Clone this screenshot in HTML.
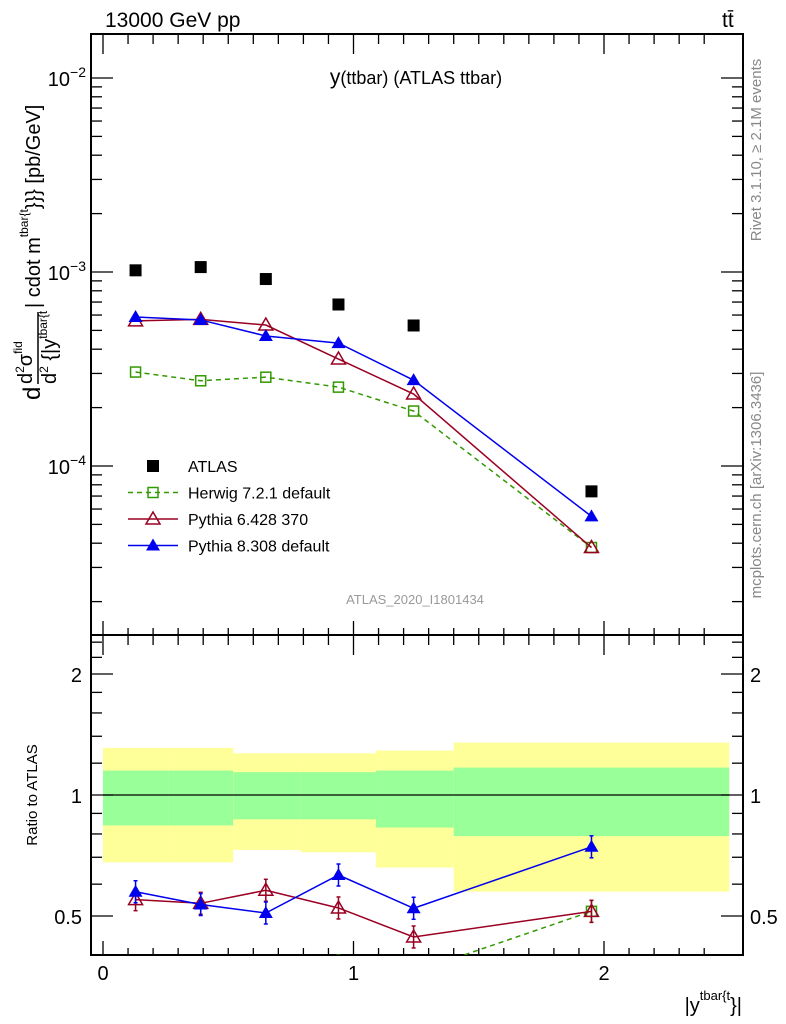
<!DOCTYPE html>
<html><head><meta charset="utf-8"><style>
body{margin:0;background:#fff;}
svg{display:block;font-family:"Liberation Sans",sans-serif;}
</style></head><body>
<svg id="c" width="786" height="1024" xmlns="http://www.w3.org/2000/svg">
<text x="105" y="27" font-size="21">13000 GeV pp</text>
<text x="722" y="27" font-size="21">tt̄</text>
<text x="416" y="84" font-size="18" text-anchor="middle"><tspan font-size="21">y</tspan>(ttbar) (ATLAS ttbar)</text>
<text x="415" y="604" font-size="13" fill="#999" text-anchor="middle">ATLAS_2020_I1801434</text>
<text transform="translate(761,150) rotate(-90)" font-size="15" fill="#888" text-anchor="middle">Rivet 3.1.10, ≥ 2.1M events</text>
<text transform="translate(761,485) rotate(-90)" font-size="15" fill="#888" text-anchor="middle">mcplots.cern.ch [arXiv:1306.3436]</text>
<g transform="translate(0,400) rotate(-90)">
<text x="0" y="40" font-size="24">d</text>
<text x="16" y="32" font-size="20">d<tspan font-size="12" dy="-8">2</tspan><tspan dy="8">σ</tspan><tspan font-size="12" dy="-10">fid</tspan></text>
<line x1="16" x2="88" y1="38" y2="38" stroke="#000" stroke-width="1.5"/>
<text x="16" y="56" font-size="20">d<tspan font-size="12" dy="-8">2</tspan><tspan dy="8"> {|y</tspan><tspan font-size="12" dy="-9">tbar{t</tspan></text>
<text x="92" y="40" font-size="20">| cdot m<tspan font-size="12" dy="-12">tbar{t</tspan><tspan dy="12">}}} [pb/GeV]</tspan></text>
</g>
<text transform="translate(37,795) rotate(-90)" font-size="15" text-anchor="middle">Ratio to ATLAS</text>
<text x="742" y="1012" font-size="20" text-anchor="end">|y<tspan font-size="13" dy="-12">tbar{t</tspan><tspan dy="12">}|</tspan></text>
<g id="g"></g>
</svg>
<script>
const xCenters=[0.13,0.39,0.65,0.94,1.24,1.95];
const binEdges=[0,0.26,0.52,0.79,1.09,1.4,2.5];
const atlas=[1.02e-3,1.06e-3,0.92e-3,0.68e-3,0.53e-3,7.4e-5];
const herwig=[3.05e-4,2.75e-4,2.87e-4,2.55e-4,1.92e-4,3.8e-5];
const pythia6=[5.6e-4,5.7e-4,5.33e-4,3.56e-4,2.35e-4,3.8e-5];
const pythia8=[5.86e-4,5.66e-4,4.68e-4,4.3e-4,2.77e-4,5.5e-5];
const yellowUp=[1.31,1.31,1.27,1.27,1.29,1.35];
const yellowDn=[0.68,0.68,0.73,0.72,0.66,0.575];
const greenUp=[1.15,1.15,1.14,1.14,1.15,1.17];
const greenDn=[0.84,0.84,0.87,0.87,0.83,0.79];
const mainTicks=[-2,-3,-4];
const ratioTicks=[2,1,0.5];
const xTicks=[0,1,2];
const NS="http://www.w3.org/2000/svg";
const g=document.getElementById('g');
const L=91,R=743,T=34,MB=635,RB=955;
const X=v=>103+v*250.5;
const Y=v=>272-(Math.log10(v)+3)*194;
const YR=v=>795-Math.log2(v)*121;
function el(t,a,p){const e=document.createElementNS(NS,t);for(const k in a)e.setAttribute(k,a[k]);(p||g).appendChild(e);return e;}
for(let i=0;i<xCenters.length;i++){
  const y=el('rect',{x:X(binEdges[i]),y:YR(yellowUp[i]),width:X(binEdges[i+1])-X(binEdges[i]),height:YR(yellowDn[i])-YR(yellowUp[i]),fill:'#ffff99'});
  
  
  const gr=el('rect',{x:X(binEdges[i]),y:YR(greenUp[i]),width:X(binEdges[i+1])-X(binEdges[i]),height:YR(greenDn[i])-YR(greenUp[i]),fill:'#99ff99'});
  
  
}
el('line',{x1:X(0),x2:X(2.5),y1:YR(1),y2:YR(1),stroke:'#000','stroke-width':1.3});
el('rect',{x:L,y:T,width:R-L,height:MB-T,fill:'none',stroke:'#000','stroke-width':2});
el('rect',{x:L,y:MB,width:R-L,height:RB-MB,fill:'none',stroke:'#000','stroke-width':2});
for(let v=0;v<=2.5;v+=0.1){const major=Math.abs(v-Math.round(v))<1e-6;const len=major?20:10;const len2=major?14:7;
 [[T,1],[MB,-1],[MB,1],[RB,-1]].forEach(([y0,d])=>el('line',{x1:X(v),x2:X(v),y1:y0,y2:y0+d*(y0==T||y0==MB&&d==1?len:len2),stroke:'#000','stroke-width':1.3}));}
xTicks.forEach(v=>{const t=el('text',{x:X(v),y:980,'font-size':20,'text-anchor':'middle'});t.textContent=v;
 
 });
for(let e=-5;e<=-2;e++)for(let m=1;m<10;m++){const y=Y(m*Math.pow(10,e));if(y<T||y>MB)continue;const len=m==1?22:11;
 el('line',{x1:L,x2:L+len,y1:y,y2:y,stroke:'#000','stroke-width':1.3});el('line',{x1:R,x2:R-len,y1:y,y2:y,stroke:'#000','stroke-width':1.3});}
mainTicks.forEach(e=>{const t=el('text',{x:86,y:Y(Math.pow(10,e))+8,'font-size':20,'text-anchor':'end'});
 t.innerHTML='10<tspan font-size="14" dy="-9">−'+(-e)+'</tspan>';
 
 });
[0.4,0.5,0.6,0.7,0.8,0.9,1,1.2,1.4,1.6,1.8,2,2.2,2.4].forEach(v=>{const y=YR(v);const len=(v==0.5||v==1||v==2)?22:11;
 el('line',{x1:L,x2:L+len,y1:y,y2:y,stroke:'#000','stroke-width':1.3});el('line',{x1:R,x2:R-len,y1:y,y2:y,stroke:'#000','stroke-width':1.3});});
ratioTicks.forEach(v=>{[[82,'end'],[750,'start']].forEach(([x,a])=>{const t=el('text',{x:x,y:YR(v)+8,'font-size':20,'text-anchor':a});t.textContent=v;
 
 });});
const cp=el('clipPath',{id:'rc'});el('rect',{x:L,y:MB,width:R-L,height:RB-MB},cp);
const cm=el('clipPath',{id:'mc'});el('rect',{x:L,y:T,width:R-L,height:MB-T},cm);
function marker(x,y,type,col,par){
 if(type=='sq'){return el('rect',{x:x-6,y:y-6,width:12,height:12,fill:'#000'},par);}
 if(type=='osq'){return el('rect',{x:x-5,y:y-5,width:10,height:10,fill:'none',stroke:col,'stroke-width':1.5},par);}
 if(type=='otri'){return el('path',{d:`M${x},${y-7}L${x+7},${y+5}L${x-7},${y+5}Z`,fill:'none',stroke:col,'stroke-width':1.5},par);}
 return el('path',{d:`M${x},${y-7}L${x+7},${y+5}L${x-7},${y+5}Z`,fill:col},par);}
const series=[
 {vals:herwig,col:'#339900',type:'osq',dash:'5,4',name:'herwig'},
 {vals:pythia6,col:'#990022',type:'otri',dash:'',name:'pythia6'},
 {vals:pythia8,col:'#0000ee',type:'tri',dash:'',name:'pythia8'}];
const gm=el('g',{'clip-path':'url(#mc)'});const gr2=el('g',{'clip-path':'url(#rc)'});
series.forEach(s=>{
 const pts=s.vals.map((v,i)=>X(xCenters[i])+','+Y(v)).join(' ');
 const l=el('polyline',{points:pts,fill:'none',stroke:s.col,'stroke-width':1.5,'stroke-dasharray':s.dash},gm);
 
 
 const rp=s.vals.map((v,i)=>X(xCenters[i])+','+YR(v/atlas[i])).join(' ');
 const rl=el('polyline',{points:rp,fill:'none',stroke:s.col,'stroke-width':1.5,'stroke-dasharray':s.dash},gr2);
 
 
 s.vals.forEach((v,i)=>{const x=X(xCenters[i]);
  const m=marker(x,Y(v),s.type,s.col,gm);
  
  
  const ry=YR(v/atlas[i]);
  el('line',{x1:x,x2:x,y1:ry-11,y2:ry+11,stroke:s.col,'stroke-width':1.5},gr2);
  el('line',{x1:x-2,x2:x+2,y1:ry-11,y2:ry-11,stroke:s.col,'stroke-width':1.5},gr2);
  el('line',{x1:x-2,x2:x+2,y1:ry+11,y2:ry+11,stroke:s.col,'stroke-width':1.5},gr2);
  const rm=marker(x,ry,s.type,s.col,gr2);
  
  });
});
atlas.forEach((v,i)=>{const m=marker(X(xCenters[i]),Y(v),'sq','#000',gm);
 
 });
const leg=[['ATLAS','sq','#000',''],['Herwig 7.2.1 default','osq','#339900','5,4'],['Pythia 6.428 370','otri','#990022',''],['Pythia 8.308 default','tri','#0000ee','']];
leg.forEach((e,i)=>{const y=466+i*26.5;
 if(e[0]!='ATLAS')el('line',{x1:128,x2:178,y1:y,y2:y,stroke:e[2],'stroke-width':1.5,'stroke-dasharray':e[3]});
 marker(153,y,e[1],e[2]);
 const t=el('text',{x:188,y:y+6,'font-size':16});t.textContent=e[0];
 
 });
</script>
</body></html>
